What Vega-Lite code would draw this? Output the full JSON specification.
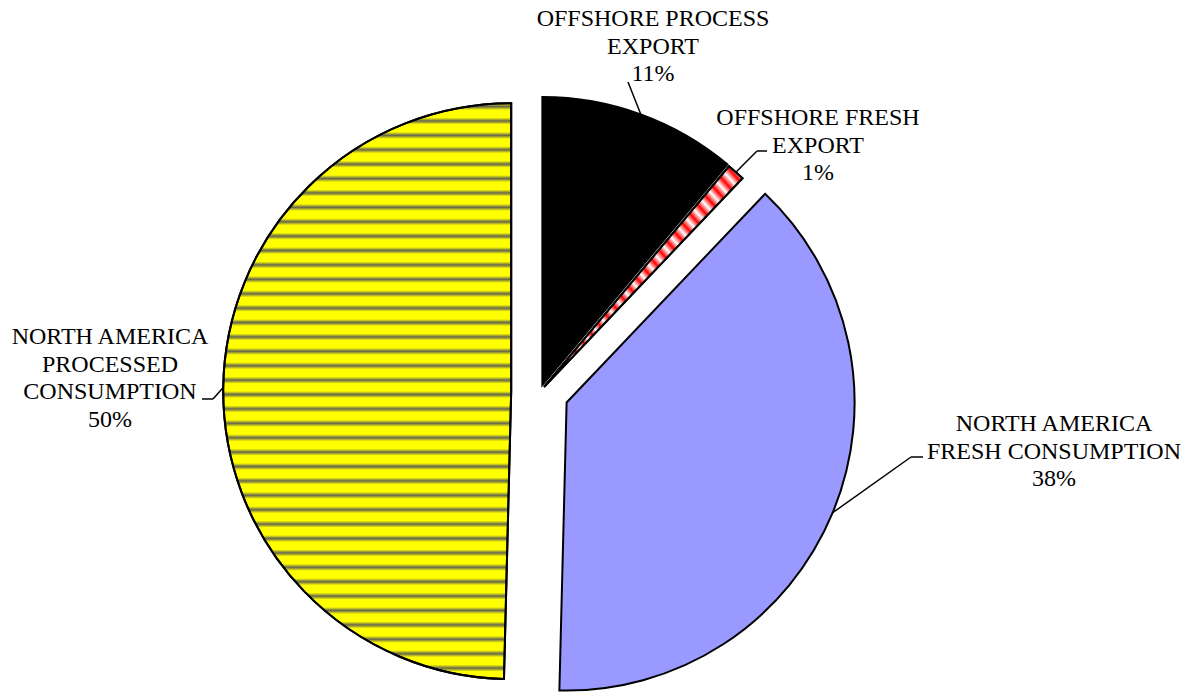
{
  "$schema": "https://vega.github.io/schema/vega-lite/v6.json",
  "width": 1197,
  "height": 692,
  "autosize": {"type": "none"},
  "padding": 0,
  "background": "white",
  "config": {"view": {"stroke": null}},
  "data": {
    "values": [
      {"category": "OFFSHORE PROCESS\nEXPORT", "value": 11.1},
      {"category": "OFFSHORE FRESH\nEXPORT", "value": 1.0},
      {"category": "NORTH AMERICA\nFRESH CONSUMPTION", "value": 38.3},
      {"category": "NORTH AMERICA\nPROCESSED\nCONSUMPTION", "value": 49.6}
    ]
  },
  "transform": [
    {"window": [{"op": "sum", "field": "value", "as": "cum"}, {"op": "row_number", "as": "i"}], "frame": [null, 0]},
    {"calculate": "datum.cum - datum.value", "as": "start"},
    {"calculate": "PI * (2 * datum.cum - datum.value) / 100", "as": "mid"},
    {"calculate": "[0.024, 0.021, 0.1, 0.1][datum.i - 1]", "as": "ex"},
    {"calculate": "datum.ex * sin(datum.mid)", "as": "cx"},
    {"calculate": "datum.ex * cos(datum.mid)", "as": "cy"},
    {"calculate": "datum.cx + sin(datum.mid)", "as": "sx"},
    {"calculate": "datum.cy + cos(datum.mid)", "as": "sy"},
    {"calculate": "[0.3056, 0.7535, 1.2882, -1.1354][datum.i - 1]", "as": "bx"},
    {"calculate": "[1.0747, 0.8351, -0.2274, -0.0260][datum.i - 1]", "as": "by"},
    {"calculate": "[0.3056, 0.7882, 1.3299, -1.1736][datum.i - 1]", "as": "tx"},
    {"calculate": "[0.3924, 0.9653, 1.7847, -1.4931][datum.i - 1]", "as": "lx"},
    {"calculate": "[1.3351, 0.9913, -0.0712, 0.2309][datum.i - 1]", "as": "ly"},
    {"calculate": "datum.category + '\\n' + format(datum.value / 100, '.0%')", "as": "label"}
  ],
  "layer": [
    {
      "encoding": {
        "theta": {"field": "start", "type": "quantitative", "stack": null, "scale": {"domain": [0, 100], "range": [0, 6.283185307179586]}},
        "theta2": {"field": "cum"},
        "x": {"field": "cx", "type": "quantitative", "stack": null, "axis": null, "scale": {"domain": [-1.875, 2.28125], "nice": false, "zero": false}},
        "y": {"field": "cy", "type": "quantitative", "stack": null, "axis": null, "scale": {"domain": [-1.0434, 1.359375], "nice": false, "zero": false}}
      },
      "layer": [
        {
          "mark": {"type": "arc", "outerRadius": 288, "stroke": "#000000", "strokeWidth": 2},
          "encoding": {
            "fill": {"field": "i", "type": "ordinal", "legend": null, "scale": {"domain": [1, 2, 3, 4], "range": ["#000000", "#FF0000", "#9999FF", "#FFFF00"]}}
          }
        },
        {
          "transform": [{"filter": "datum.i == 4"}],
          "mark": {"type": "arc", "outerRadius": 288, "stroke": "#000000", "strokeWidth": 2,
            "fill": {"gradient": "linear", "x1": 0, "y1": 0, "x2": 0, "y2": 1, "stops": [
              {"offset": 0, "color": "#00008000"}, {"offset": 0.006, "color": "#00008099"}, {"offset": 0.012, "color": "#00008000"},
              {"offset": 0.025, "color": "#00008000"}, {"offset": 0.031, "color": "#00008099"}, {"offset": 0.037, "color": "#00008000"},
              {"offset": 0.05, "color": "#00008000"}, {"offset": 0.056, "color": "#00008099"}, {"offset": 0.062, "color": "#00008000"},
              {"offset": 0.075, "color": "#00008000"}, {"offset": 0.081, "color": "#00008099"}, {"offset": 0.087, "color": "#00008000"},
              {"offset": 0.1, "color": "#00008000"}, {"offset": 0.106, "color": "#00008099"}, {"offset": 0.112, "color": "#00008000"},
              {"offset": 0.125, "color": "#00008000"}, {"offset": 0.131, "color": "#00008099"}, {"offset": 0.137, "color": "#00008000"},
              {"offset": 0.15, "color": "#00008000"}, {"offset": 0.156, "color": "#00008099"}, {"offset": 0.162, "color": "#00008000"},
              {"offset": 0.175, "color": "#00008000"}, {"offset": 0.181, "color": "#00008099"}, {"offset": 0.187, "color": "#00008000"},
              {"offset": 0.2, "color": "#00008000"}, {"offset": 0.206, "color": "#00008099"}, {"offset": 0.212, "color": "#00008000"},
              {"offset": 0.225, "color": "#00008000"}, {"offset": 0.231, "color": "#00008099"}, {"offset": 0.237, "color": "#00008000"},
              {"offset": 0.25, "color": "#00008000"}, {"offset": 0.256, "color": "#00008099"}, {"offset": 0.262, "color": "#00008000"},
              {"offset": 0.275, "color": "#00008000"}, {"offset": 0.281, "color": "#00008099"}, {"offset": 0.287, "color": "#00008000"},
              {"offset": 0.3, "color": "#00008000"}, {"offset": 0.306, "color": "#00008099"}, {"offset": 0.312, "color": "#00008000"},
              {"offset": 0.325, "color": "#00008000"}, {"offset": 0.331, "color": "#00008099"}, {"offset": 0.337, "color": "#00008000"},
              {"offset": 0.35, "color": "#00008000"}, {"offset": 0.356, "color": "#00008099"}, {"offset": 0.362, "color": "#00008000"},
              {"offset": 0.375, "color": "#00008000"}, {"offset": 0.381, "color": "#00008099"}, {"offset": 0.387, "color": "#00008000"},
              {"offset": 0.4, "color": "#00008000"}, {"offset": 0.406, "color": "#00008099"}, {"offset": 0.412, "color": "#00008000"},
              {"offset": 0.425, "color": "#00008000"}, {"offset": 0.431, "color": "#00008099"}, {"offset": 0.437, "color": "#00008000"},
              {"offset": 0.45, "color": "#00008000"}, {"offset": 0.456, "color": "#00008099"}, {"offset": 0.462, "color": "#00008000"},
              {"offset": 0.475, "color": "#00008000"}, {"offset": 0.481, "color": "#00008099"}, {"offset": 0.487, "color": "#00008000"},
              {"offset": 0.5, "color": "#00008000"}, {"offset": 0.506, "color": "#00008099"}, {"offset": 0.512, "color": "#00008000"},
              {"offset": 0.525, "color": "#00008000"}, {"offset": 0.531, "color": "#00008099"}, {"offset": 0.537, "color": "#00008000"},
              {"offset": 0.55, "color": "#00008000"}, {"offset": 0.556, "color": "#00008099"}, {"offset": 0.562, "color": "#00008000"},
              {"offset": 0.575, "color": "#00008000"}, {"offset": 0.581, "color": "#00008099"}, {"offset": 0.587, "color": "#00008000"},
              {"offset": 0.6, "color": "#00008000"}, {"offset": 0.606, "color": "#00008099"}, {"offset": 0.612, "color": "#00008000"},
              {"offset": 0.625, "color": "#00008000"}, {"offset": 0.631, "color": "#00008099"}, {"offset": 0.637, "color": "#00008000"},
              {"offset": 0.65, "color": "#00008000"}, {"offset": 0.656, "color": "#00008099"}, {"offset": 0.662, "color": "#00008000"},
              {"offset": 0.675, "color": "#00008000"}, {"offset": 0.681, "color": "#00008099"}, {"offset": 0.687, "color": "#00008000"},
              {"offset": 0.7, "color": "#00008000"}, {"offset": 0.706, "color": "#00008099"}, {"offset": 0.712, "color": "#00008000"},
              {"offset": 0.725, "color": "#00008000"}, {"offset": 0.731, "color": "#00008099"}, {"offset": 0.737, "color": "#00008000"},
              {"offset": 0.75, "color": "#00008000"}, {"offset": 0.756, "color": "#00008099"}, {"offset": 0.762, "color": "#00008000"},
              {"offset": 0.775, "color": "#00008000"}, {"offset": 0.781, "color": "#00008099"}, {"offset": 0.787, "color": "#00008000"},
              {"offset": 0.8, "color": "#00008000"}, {"offset": 0.806, "color": "#00008099"}, {"offset": 0.812, "color": "#00008000"},
              {"offset": 0.825, "color": "#00008000"}, {"offset": 0.831, "color": "#00008099"}, {"offset": 0.837, "color": "#00008000"},
              {"offset": 0.85, "color": "#00008000"}, {"offset": 0.856, "color": "#00008099"}, {"offset": 0.862, "color": "#00008000"},
              {"offset": 0.875, "color": "#00008000"}, {"offset": 0.881, "color": "#00008099"}, {"offset": 0.887, "color": "#00008000"},
              {"offset": 0.9, "color": "#00008000"}, {"offset": 0.906, "color": "#00008099"}, {"offset": 0.912, "color": "#00008000"},
              {"offset": 0.925, "color": "#00008000"}, {"offset": 0.931, "color": "#00008099"}, {"offset": 0.937, "color": "#00008000"},
              {"offset": 0.95, "color": "#00008000"}, {"offset": 0.956, "color": "#00008099"}, {"offset": 0.962, "color": "#00008000"},
              {"offset": 0.975, "color": "#00008000"}, {"offset": 0.981, "color": "#00008099"}, {"offset": 0.987, "color": "#00008000"},
              {"offset": 1, "color": "#00008000"}
            ]}
          }
        },
        {
          "transform": [{"filter": "datum.i == 2"}],
          "mark": {"type": "arc", "outerRadius": 288, "stroke": "#000000", "strokeWidth": 2,
            "fill": {"gradient": "linear", "x1": 0, "y1": 1, "x2": 1, "y2": 0, "stops": [
              {"offset": 0, "color": "#FFFFFF00"}, {"offset": 0.02, "color": "#FFFFFF"}, {"offset": 0.04, "color": "#FFFFFF00"},
              {"offset": 0.06, "color": "#FFFFFF"}, {"offset": 0.08, "color": "#FFFFFF00"}, {"offset": 0.1, "color": "#FFFFFF"},
              {"offset": 0.12, "color": "#FFFFFF00"}, {"offset": 0.14, "color": "#FFFFFF"}, {"offset": 0.16, "color": "#FFFFFF00"},
              {"offset": 0.18, "color": "#FFFFFF"}, {"offset": 0.2, "color": "#FFFFFF00"}, {"offset": 0.22, "color": "#FFFFFF"},
              {"offset": 0.24, "color": "#FFFFFF00"}, {"offset": 0.26, "color": "#FFFFFF"}, {"offset": 0.28, "color": "#FFFFFF00"},
              {"offset": 0.3, "color": "#FFFFFF"}, {"offset": 0.32, "color": "#FFFFFF00"}, {"offset": 0.34, "color": "#FFFFFF"},
              {"offset": 0.36, "color": "#FFFFFF00"}, {"offset": 0.38, "color": "#FFFFFF"}, {"offset": 0.4, "color": "#FFFFFF00"},
              {"offset": 0.42, "color": "#FFFFFF"}, {"offset": 0.44, "color": "#FFFFFF00"}, {"offset": 0.46, "color": "#FFFFFF"},
              {"offset": 0.48, "color": "#FFFFFF00"}, {"offset": 0.5, "color": "#FFFFFF"}, {"offset": 0.52, "color": "#FFFFFF00"},
              {"offset": 0.54, "color": "#FFFFFF"}, {"offset": 0.56, "color": "#FFFFFF00"}, {"offset": 0.58, "color": "#FFFFFF"},
              {"offset": 0.6, "color": "#FFFFFF00"}, {"offset": 0.62, "color": "#FFFFFF"}, {"offset": 0.64, "color": "#FFFFFF00"},
              {"offset": 0.66, "color": "#FFFFFF"}, {"offset": 0.68, "color": "#FFFFFF00"}, {"offset": 0.7, "color": "#FFFFFF"},
              {"offset": 0.72, "color": "#FFFFFF00"}, {"offset": 0.74, "color": "#FFFFFF"}, {"offset": 0.76, "color": "#FFFFFF00"},
              {"offset": 0.78, "color": "#FFFFFF"}, {"offset": 0.8, "color": "#FFFFFF00"}, {"offset": 0.82, "color": "#FFFFFF"},
              {"offset": 0.84, "color": "#FFFFFF00"}, {"offset": 0.86, "color": "#FFFFFF"}, {"offset": 0.88, "color": "#FFFFFF00"},
              {"offset": 0.9, "color": "#FFFFFF"}, {"offset": 0.92, "color": "#FFFFFF00"}, {"offset": 0.94, "color": "#FFFFFF"},
              {"offset": 0.96, "color": "#FFFFFF00"}, {"offset": 0.98, "color": "#FFFFFF"}, {"offset": 1, "color": "#FFFFFF00"}
            ]}
          }
        }
      ]
    },
    {
      "mark": {"type": "rule", "stroke": "#000000", "strokeWidth": 1.5},
      "encoding": {
        "x": {"field": "sx", "type": "quantitative"},
        "y": {"field": "sy", "type": "quantitative"},
        "x2": {"field": "bx"},
        "y2": {"field": "by"}
      }
    },
    {
      "mark": {"type": "rule", "stroke": "#000000", "strokeWidth": 1.5},
      "encoding": {
        "x": {"field": "bx", "type": "quantitative"},
        "y": {"field": "by", "type": "quantitative"},
        "x2": {"field": "tx"},
        "y2": {"field": "by"}
      }
    },
    {
      "mark": {"type": "text", "font": "Liberation Serif", "fontSize": 24, "align": "center", "baseline": "top", "lineBreak": "\n", "lineHeight": 27.6, "color": "#000000"},
      "encoding": {
        "x": {"field": "lx", "type": "quantitative"},
        "y": {"field": "ly", "type": "quantitative"},
        "text": {"field": "label"}
      }
    }
  ]
}
